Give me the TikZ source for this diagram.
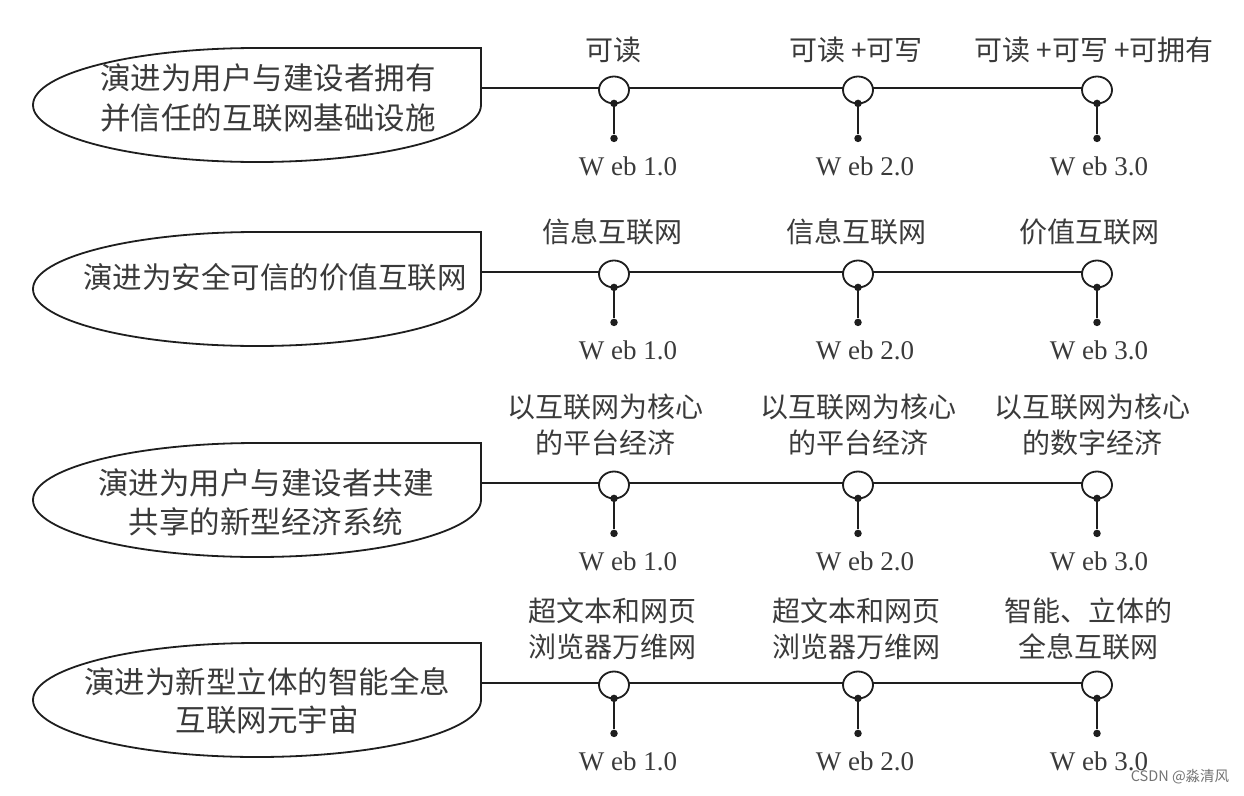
\documentclass[tikz,border=0pt]{standalone}
\usepackage{fontspec}
\setmainfont{Liberation Serif}
\newfontfamily\cjk{Noto Sans CJK SC}
\usetikzlibrary{shapes.geometric,backgrounds,calc}
\definecolor{ink}{HTML}{1E1E1E}
\definecolor{txt}{HTML}{3A3A3A}
\tikzset{
  conn/.style={draw=ink, line width=1.8pt},
  leafshape/.style={draw=ink, line width=1.8pt, fill=white},
  ring/.style={ellipse, draw=ink, line width=1.8pt, fill=white, minimum width=30pt, minimum height=27pt, inner sep=0pt},
  blob/.style={circle, fill=ink, minimum size=7.5pt, inner sep=0pt},
  lbl/.style={font=\cjk\fontsize{28}{36}\selectfont, text=txt, align=center, inner sep=0pt},
  big/.style={font=\cjk\fontsize{29.5}{39}\selectfont, text=txt, align=center, inner sep=0pt},
  web/.style={font=\fontsize{27}{30}\selectfont, text=txt, inner sep=0pt},
  wm/.style={font=\cjk\fontsize{14.5}{16}\selectfont, text=black!55, inner sep=0pt}
}
% leaf shape for a row whose connector is at y=#1
\newcommand\leafpath[1]{%
  \draw[leafshape] (481,{#1+17}) arc[start angle=0, end angle=180, x radius=224, y radius=57]
     arc[start angle=180, end angle=270, x radius=224, y radius=57]
     -- (481,{#1-40}) -- cycle;
}
% row of three rings with stems
\newcommand\webrow[2]{%
  \coordinate (s#1) at (481,#2);
  \node[ring] (c#1a) at (614,{#2+2}) {};
  \node[ring] (c#1b) at (858,{#2+2}) {};
  \node[ring] (c#1c) at (1097,{#2+2}) {};
  \begin{scope}[on background layer]
    \draw[conn] (s#1) -- (s#1 -| c#1c);
  \end{scope}
  \foreach \k in {a,b,c} {
    \node[blob] (u#1\k) at ([yshift=1pt]c#1\k.south) {};
    \node[blob] (d#1\k) at ([yshift=-35pt]u#1\k.center) {};
    \draw[conn] (u#1\k) -- (d#1\k);
  }
  \node[web] (w#1a) at (628,{#2+78}) {W eb 1.0};
  \node[web] (w#1b) at (865,{#2+78}) {W eb 2.0};
  \node[web] (w#1c) at (1099,{#2+78}) {W eb 3.0};
}
\begin{document}
\begin{tikzpicture}[x=1pt, y=-1pt]
\begin{scope}[on background layer]
  \fill[white] (0,0) rectangle (1244,795);
\end{scope}
\useasboundingbox (0,0) rectangle (1244,795);

% ---------- Row 1 ----------
\leafpath{88}
\node[big, font=\cjk\fontsize{30.5}{40}\selectfont] (e1) at (268,98) {演进为用户与建设者拥有\\并信任的互联网基础设施};
\webrow{1}{88}
\node[lbl] (t1a) at (613,50) {可读};
\node[lbl] (t1b) at (856,50) {可读 +可写};
\node[lbl] (t1c) at (1094,50) {可读 +可写 +可拥有};

% ---------- Row 2 ----------
\leafpath{272}
\node[big] (e2) at (275,277) {演进为安全可信的价值互联网};
\webrow{2}{272}
\node[lbl] (t2a) at (612,232) {信息互联网};
\node[lbl] (t2b) at (856,232) {信息互联网};
\node[lbl] (t2c) at (1089,232) {价值互联网};

% ---------- Row 3 ----------
\leafpath{483}
\node[big, font=\cjk\fontsize{30.5}{39}\selectfont] (e3) at (266,502) {演进为用户与建设者共建\\共享的新型经济系统};
\webrow{3}{483}
\node[lbl] (t3a) at (605,425) {以互联网为核心\\的平台经济};
\node[lbl] (t3b) at (858,425) {以互联网为核心\\的平台经济};
\node[lbl] (t3c) at (1092,425) {以互联网为核心\\的数字经济};

% ---------- Row 4 ----------
\leafpath{683}
\node[big, font=\cjk\fontsize{30.5}{38}\selectfont] (e4) at (267,701) {演进为新型立体的智能全息\\互联网元宇宙};
\webrow{4}{683}
\node[lbl] (t4a) at (612,629) {超文本和网页\\浏览器万维网};
\node[lbl] (t4b) at (856,629) {超文本和网页\\浏览器万维网};
\node[lbl] (t4c) at (1088,629) {智能、立体的\\全息互联网};

% watermark
\node[wm] (mark) at (1180,777) {CSDN @淼清风};
\end{tikzpicture}
\end{document}
